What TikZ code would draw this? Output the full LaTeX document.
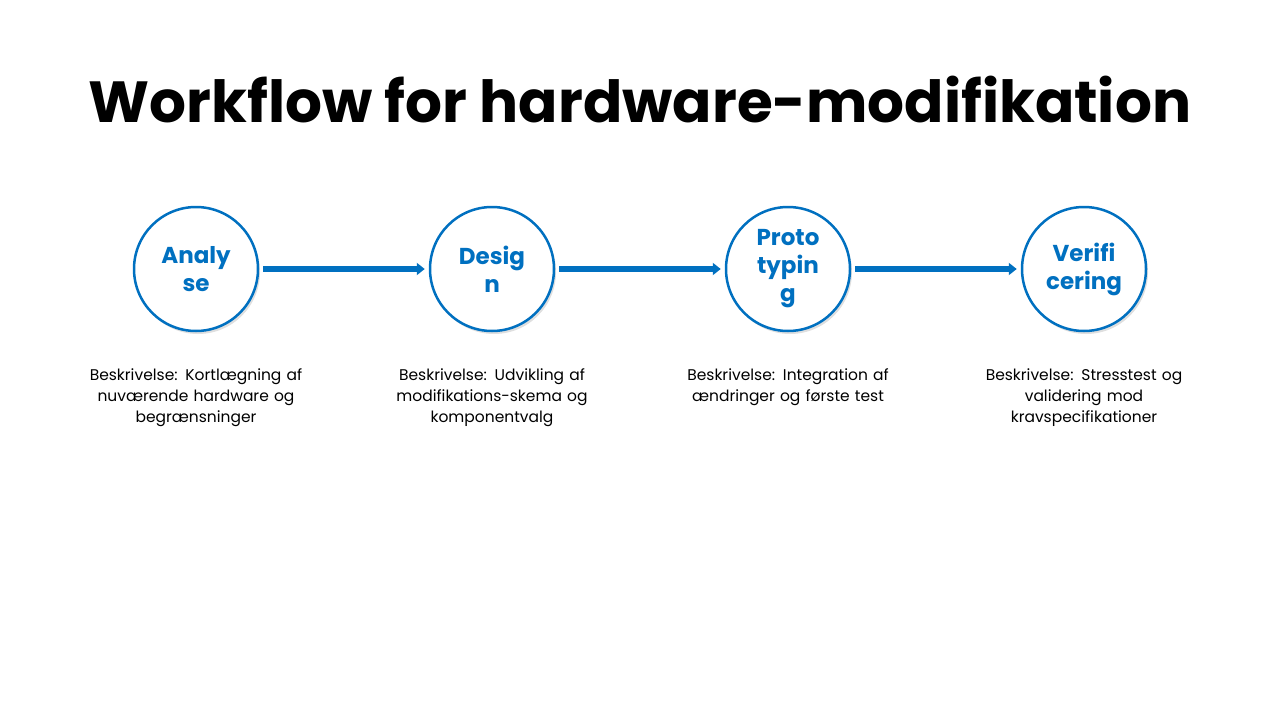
\documentclass[tikz,border=0pt]{standalone}
\usepackage{fontspec}
\setmainfont{Poppins}
\usetikzlibrary{shadows,arrows.meta}
\definecolor{blu}{HTML}{0070C0}
\begin{document}
\begin{tikzpicture}[x=1pt,y=1pt,
  stage/.style={circle,draw=blu,line width=2.5pt,fill=white,minimum size=124pt,inner sep=0pt,
    text=blu,font=\fontsize{23}{28}\selectfont\bfseries,align=center,text width=80pt,
    drop shadow={shadow xshift=2pt,shadow yshift=-3pt,opacity=0.25}},
  desc/.style={font=\fontsize{15.5}{21}\selectfont,align=center,text width=240pt,anchor=north},
  conn/.style={draw=blu,line width=5.5pt,-{Triangle[length=8pt,width=12pt]},shorten >=4pt,shorten <=4pt}]
\useasboundingbox (0,0) rectangle (1280,-720);
\node[font=\fontsize{58}{64}\selectfont\bfseries] (title) at (640,-100) {Workflow for hardware-modifikation};
\node[stage] (a) at (196,-269) {Analy\\se};
\node[stage] (b) at (492,-269) {Desig\\n};
\node[stage] (c) at (788,-269) {Proto\\typin\\g};
\node[stage] (d) at (1084,-269) {Verifi\\cering};
\draw[conn] (a) -- (b);
\draw[conn] (b) -- (c);
\draw[conn] (c) -- (d);
\node[desc] (da) at (196,-365) {Beskrivelse: Kortlægning af\\nuværende hardware og\\begrænsninger};
\node[desc] (db) at (492,-365) {Beskrivelse: Udvikling af\\modifikations-skema og\\komponentvalg};
\node[desc] (dc) at (788,-365) {Beskrivelse: Integration af\\ændringer og første test};
\node[desc] (dd) at (1084,-365) {Beskrivelse: Stresstest og\\validering mod\\kravspecifikationer};
\end{tikzpicture}
\end{document}
